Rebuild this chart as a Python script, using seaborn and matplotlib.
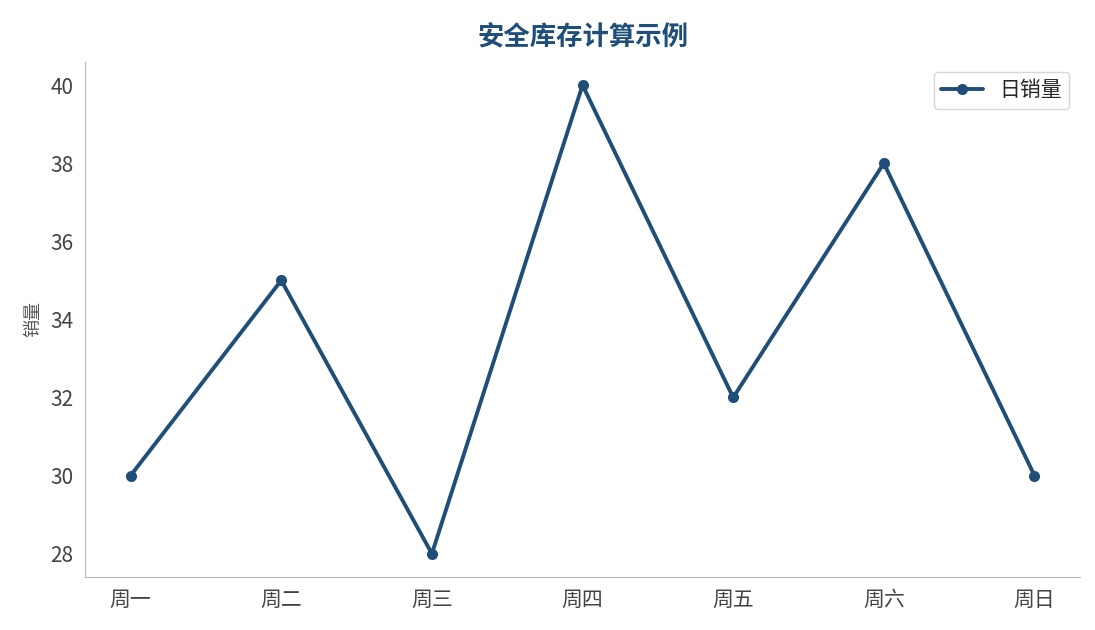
import pandas as pd
import matplotlib
matplotlib.use("Agg")
import matplotlib.pyplot as plt
import seaborn as sns

days = ["周一", "周二", "周三", "周四", "周五", "周六", "周日"]
sales = [30, 35, 28, 40, 32, 38, 30]

df = pd.DataFrame({"星期": days, "日销量": sales})

sns.set_style("white")
plt.rcParams["font.family"] = ["Noto Sans CJK SC", "DejaVu Sans"]

color = "#1f4e79"
fig, ax = plt.subplots(figsize=(10.95, 6.3), dpi=100)
sns.lineplot(data=df, x="星期", y="日销量", ax=ax, color=color, linewidth=2.8,
             marker="o", markersize=8, markeredgewidth=0, label="日销量", sort=False)

ax.set_title("安全库存计算示例", fontsize=19, fontweight="bold", color=color, pad=12)
ax.set_xlabel("")
ax.set_ylabel("销量", fontsize=13, color="#555555", labelpad=6)
ax.tick_params(axis="both", labelsize=15, colors="#444444", length=5, color="#999999")
for side in ["top", "right"]:
    ax.spines[side].set_visible(False)
for side in ["left", "bottom"]:
    ax.spines[side].set_color("#bbbbbb")
ax.legend(loc="upper right", fontsize=15, frameon=True, edgecolor="#cccccc",
          handlelength=2.0, borderpad=0.35)

plt.subplots_adjust(left=0.078, right=0.986, top=0.902, bottom=0.084)
plt.savefig("out.png", dpi=100)
